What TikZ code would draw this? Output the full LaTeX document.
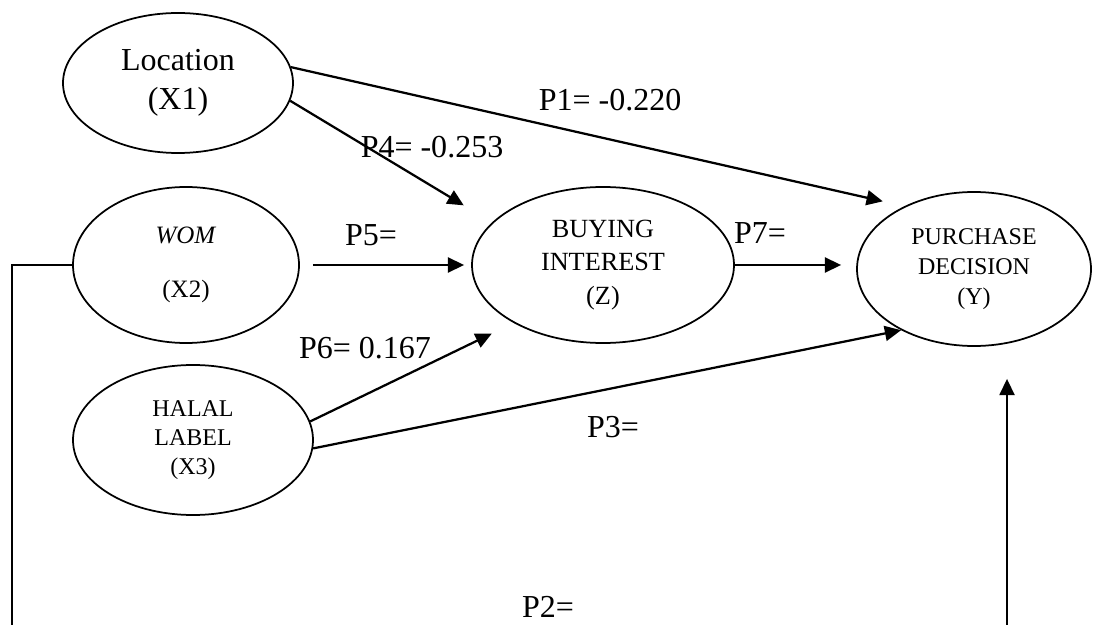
\documentclass[tikz,border=0pt]{standalone}
\usepackage{fontspec}
\setmainfont{Liberation Serif}
\usetikzlibrary{arrows.meta,shapes.geometric}

\begin{document}
\begin{tikzpicture}[x=0.4pt,y=-0.4pt,
  var/.style={ellipse, draw, line width=0.7pt, inner sep=0pt, align=center},
  link/.style={line width=0.9pt, -{Triangle[length=6.5pt,width=6pt]}},
  coef/.style={font=\fontsize{12.8}{15}\selectfont}]
\useasboundingbox (0,0) rectangle (1100,625);
\clip (0,0) rectangle (1100,625);
%VARIABLES
\node[var, minimum width=92pt, minimum height=56pt, font=\fontsize{12.8}{15.6}\selectfont] (loc) at (178,83) {Location\\(X1)};
\node[var, minimum width=90.4pt, minimum height=62.4pt, font=\fontsize{10}{21.6}\selectfont] (wom) at (186,265) {\textit{WOM}\\(X2)};
\node[var, minimum width=96pt, minimum height=60pt, font=\fontsize{9.6}{11.6}\selectfont] (hal) at (193,440) {HALAL\\LABEL\\(X3)};
\node[var, minimum width=104.8pt, minimum height=62.4pt, font=\fontsize{10.5}{13.4}\selectfont] (bi) at (603,265) {BUYING\\INTEREST\\(Z)};
\node[var, minimum width=93.6pt, minimum height=61.6pt, font=\fontsize{9.6}{12}\selectfont] (pd) at (974,269) {PURCHASE\\DECISION\\(Y)};
%PATHS
\draw[link, shorten >=8.8pt] (loc.8) -- (pd.138);
\draw[link, shorten >=13.2pt] (loc.-9) -- (bi.159);
\draw[link, shorten <=5.2pt, shorten >=2.8pt] (wom.east) -- (bi.west);
\draw[link, shorten >=9.7pt] (hal.9) -- (bi.213);
\draw[link] (hal.-4) -- (pd.220);
\draw[link, shorten >=6pt] (bi.east) -- (bi.east -| pd.west);
% WOM to decision, runs below the page
\coordinate (lowl) at (12,660);
\coordinate (lowr) at (1007,660);
\draw[link, shorten >=12.8pt] (wom.west) -| (lowl) -- (lowr) -- (lowr |- pd.south);
%COEFFICIENTS
\node[coef] (p1) at (610,100) {P1= -0.220};
\node[coef] (p4) at (432,147) {P4= -0.253};
\node[coef] (p5) at (371,235) {P5=};
\node[coef] (p6) at (365,348) {P6= 0.167};
\node[coef] (p7) at (760,233) {P7=};
\node[coef] (p3) at (613,427) {P3=};
\node[coef] (p2) at (548,607) {P2=};
\end{tikzpicture}
\end{document}
